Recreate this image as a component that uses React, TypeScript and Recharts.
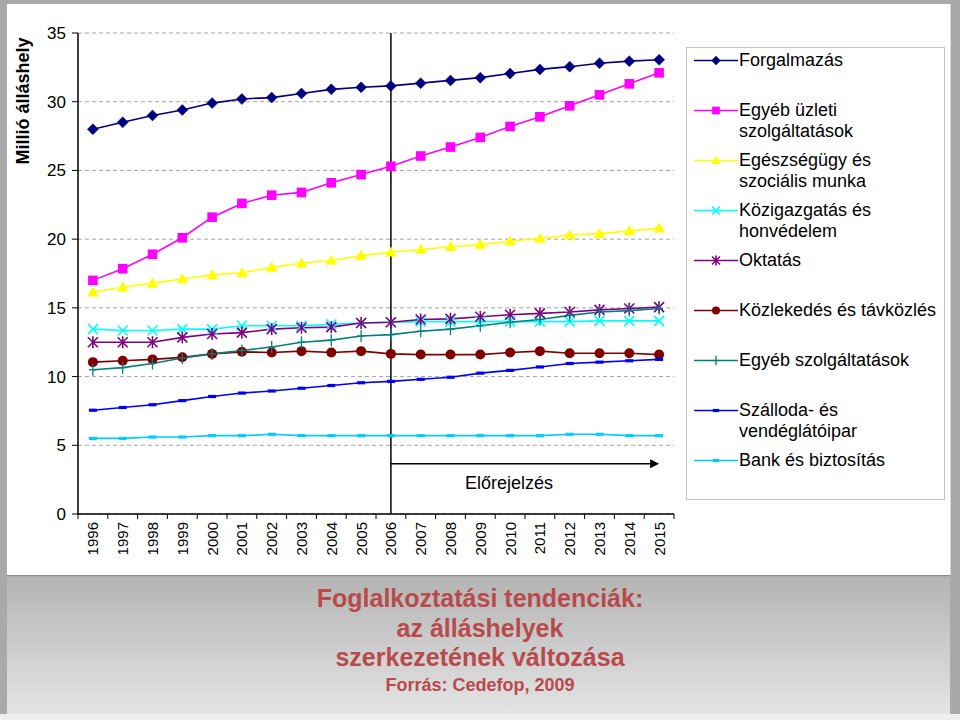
import React from 'react';
import { LineChart, Line, XAxis, YAxis, CartesianGrid, ReferenceLine, Legend } from 'recharts';

const years = ['1996','1997','1998','1999','2000','2001','2002','2003','2004','2005','2006','2007','2008','2009','2010','2011','2012','2013','2014','2015'];

const forgalmazas = [28.0, 28.5, 29.0, 29.4, 29.9, 30.2, 30.3, 30.6, 30.9, 31.05, 31.15, 31.35, 31.55, 31.75, 32.05, 32.35, 32.55, 32.8, 32.95, 33.05];
const egyebUzleti = [17.0, 17.85, 18.9, 20.1, 21.6, 22.6, 23.2, 23.4, 24.1, 24.7, 25.3, 26.05, 26.7, 27.4, 28.2, 28.9, 29.7, 30.5, 31.3, 32.1];
const egeszsegugy = [16.15, 16.5, 16.8, 17.1, 17.4, 17.55, 17.95, 18.25, 18.45, 18.8, 19.05, 19.25, 19.45, 19.6, 19.85, 20.05, 20.3, 20.4, 20.6, 20.8];
const kozigazgatas = [13.45, 13.35, 13.35, 13.45, 13.45, 13.7, 13.7, 13.7, 13.8, 13.9, 13.95, 14.0, 14.0, 14.0, 14.0, 14.0, 14.0, 14.05, 14.05, 14.05];
const oktatas = [12.5, 12.5, 12.5, 12.85, 13.1, 13.2, 13.45, 13.55, 13.6, 13.9, 13.95, 14.15, 14.2, 14.35, 14.5, 14.6, 14.7, 14.85, 14.95, 15.05];
const kozlekedes = [11.05, 11.15, 11.25, 11.4, 11.65, 11.8, 11.75, 11.85, 11.75, 11.85, 11.65, 11.6, 11.6, 11.6, 11.75, 11.85, 11.7, 11.7, 11.7, 11.6];
const egyebSzolg = [10.5, 10.65, 10.95, 11.35, 11.65, 11.9, 12.15, 12.5, 12.65, 12.95, 13.05, 13.3, 13.45, 13.7, 13.95, 14.15, 14.45, 14.7, 14.8, 14.95];
const szalloda = [7.55, 7.75, 7.95, 8.25, 8.55, 8.8, 8.95, 9.15, 9.35, 9.55, 9.65, 9.8, 9.95, 10.25, 10.45, 10.7, 10.95, 11.05, 11.15, 11.25];
const bank = [5.5, 5.5, 5.6, 5.6, 5.7, 5.7, 5.8, 5.7, 5.7, 5.7, 5.7, 5.7, 5.7, 5.7, 5.7, 5.7, 5.8, 5.8, 5.7, 5.7];

const seriesKeys = ['forgalmazas', 'egyebUzleti', 'egeszsegugy', 'kozigazgatas', 'oktatas', 'kozlekedes', 'egyebSzolg', 'szalloda', 'bank'];
const seriesValues = [forgalmazas, egyebUzleti, egeszsegugy, kozigazgatas, oktatas, kozlekedes, egyebSzolg, szalloda, bank];
const seriesNames = [
  'Forgalmazás',
  'Egyéb üzleti\nszolgáltatások',
  'Egészségügy és\nszociális munka',
  'Közigazgatás és\nhonvédelem',
  'Oktatás',
  'Közlekedés és távközlés',
  'Egyéb szolgáltatások',
  'Szálloda- és\nvendéglátóipar',
  'Bank és biztosítás',
];
const seriesColors = ['#000080', '#FF00FF', '#FFFF00', '#00FFFF', '#800080', '#800000', '#008080', '#0000FF', '#00CCFF'];
const seriesMarkers = ['diamond', 'square', 'triangle', 'x', 'star', 'circle', 'plus', 'dash', 'dash'];

const yTicks = [0, 5, 10, 15, 20, 25, 30, 35];
const forecastStart = '2006';
const forecastEnd = '2015';
const forecastArrowLevel = 3.65;
const forecastLabel = 'Előrejelzés';
const yAxisTitle = 'Millió álláshely';
const titleLines = ['Foglalkoztatási tendenciák:', 'az álláshelyek', 'szerkezetének változása'];
const sourceLine = 'Forrás: Cedefop, 2009';

const data = years.map((year, i) => {
  const row: Record<string, any> = { year };
  seriesKeys.forEach((k, j) => { row[k] = seriesValues[j][i]; });
  return row;
});

const FONT = '"Liberation Sans", Arial, Helvetica, sans-serif';

function Marker({ cx, cy, kind, color, s = 1 }: any) {
  if (cx == null || cy == null) return null;
  switch (kind) {
    case 'diamond': {
      const r = 5.5 * s;
      return <polygon points={`${cx},${cy - r} ${cx + r},${cy} ${cx},${cy + r} ${cx - r},${cy}`} fill={color} stroke={color} strokeWidth={0.5} />;
    }
    case 'square': {
      const h = 4.8 * s;
      return <rect x={cx - h} y={cy - h} width={2 * h} height={2 * h} fill={color} />;
    }
    case 'triangle': {
      const h = 5.8 * s;
      return <polygon points={`${cx},${cy - h} ${cx + h},${cy + h * 0.75} ${cx - h},${cy + h * 0.75}`} fill={color} />;
    }
    case 'x': {
      const h = 5 * s;
      return (
        <g stroke={color} strokeWidth={1.6}>
          <line x1={cx - h} y1={cy - h} x2={cx + h} y2={cy + h} />
          <line x1={cx - h} y1={cy + h} x2={cx + h} y2={cy - h} />
        </g>
      );
    }
    case 'star': {
      const h = 5 * s;
      return (
        <g stroke={color} strokeWidth={1.6}>
          <line x1={cx - h} y1={cy - h} x2={cx + h} y2={cy + h} />
          <line x1={cx - h} y1={cy + h} x2={cx + h} y2={cy - h} />
          <line x1={cx} y1={cy - h - 1} x2={cx} y2={cy + h + 1} />
        </g>
      );
    }
    case 'circle':
      return <circle cx={cx} cy={cy} r={5 * s} fill={color} />;
    case 'plus': {
      const h = 6 * s;
      return (
        <g stroke={color} strokeWidth={1.3}>
          <line x1={cx} y1={cy - h} x2={cx} y2={cy + h} />
          <line x1={cx - 4 * s} y1={cy} x2={cx + 4 * s} y2={cy} />
        </g>
      );
    }
    case 'dash':
      return <rect x={cx - 4 * s} y={cy - 1.6} width={8 * s} height={3.2} fill={color} />;
    default:
      return null;
  }
}

function YearTick(props: any) {
  const { x, y, payload, index, visibleTicksCount } = props;
  const off = payload && payload.offset ? payload.offset : 0;
  return (
    <g>
      <line x1={x - off} x2={x - off} y1={y} y2={y + 5} stroke="#000" strokeWidth={1} />
      {index === visibleTicksCount - 1 ? <line x1={x + off} x2={x + off} y1={y} y2={y + 5} stroke="#000" strokeWidth={1} /> : null}
      <text transform={`translate(${x},${y + 8}) rotate(-90)`} textAnchor="end" dy="0.36em" fontSize={15} fontFamily={FONT} fill="#000">
        {payload.value}
      </text>
    </g>
  );
}

function ArrowShape(props: any) {
  const { x1, y1, x2, y2 } = props;
  if (x1 == null) return null;
  const L = 9;
  return (
    <g>
      <line x1={x1} y1={y1} x2={x2 - L + 1} y2={y2} stroke="#000" strokeWidth={1.5} />
      <polygon points={`${x2},${y2} ${x2 - L},${y2 - 4.5} ${x2 - L},${y2 + 4.5}`} fill="#000" />
      <text x={x1 + (x2 - x1) * 0.44} y={y1 + 19} textAnchor="middle" dominantBaseline="central" fontSize={18} fontFamily={FONT} fill="#000">
        {forecastLabel}
      </text>
    </g>
  );
}

function renderLegend(props: any) {
  const payload: any[] = props.payload || [];
  const ordered = seriesKeys
    .map((k) => payload.find((e: any) => e.dataKey === k))
    .filter((e: any) => e != null);
  return (
    <div style={{ width: '100%', height: '100%', boxSizing: 'border-box', border: '1px solid #c4c4c4', background: '#fff', paddingTop: 2, fontFamily: FONT }}>
      {ordered.map((entry: any) => {
        const i = seriesKeys.indexOf(entry.dataKey);
        return (
          <div key={entry.dataKey} style={{ position: 'relative', height: 50 }}>
            <svg width={46} height={21} style={{ position: 'absolute', left: 6, top: 0 }}>
              <line x1={1} x2={45} y1={10.5} y2={10.5} stroke={seriesColors[i]} strokeWidth={1.5} />
              <Marker cx={23} cy={10.5} kind={seriesMarkers[i]} color={seriesColors[i]} s={0.8} />
            </svg>
            <div style={{ position: 'absolute', left: 52, top: 0, fontSize: 18, lineHeight: '21px', whiteSpace: 'pre-line', color: '#000' }}>
              {seriesNames[i]}
            </div>
          </div>
        );
      })}
    </div>
  );
}

export default function App() {
  return (
    <div style={{ position: 'absolute', left: 0, top: 0, width: 960, height: 720, background: '#a9a9a9', overflow: 'hidden', fontFamily: FONT }}>
      <div style={{ position: 'absolute', left: 7, top: 4, width: 943, height: 571, background: '#ffffff', borderRight: '1px solid #d8d8d8', borderBottom: '1px solid #8c8c8c' }} />
      <div style={{ position: 'absolute', left: 7, top: 577, width: 943, height: 137, background: 'linear-gradient(to bottom, #b4b4b4, #e4e4e4)' }} />
      <div style={{ position: 'absolute', left: 0, top: 714, width: 960, height: 6, background: '#eeeeee' }} />
      <div style={{ position: 'absolute', left: 0, top: 584, width: 960, textAlign: 'center', color: '#B84A4B', fontWeight: 'bold', fontSize: 25, lineHeight: '29.5px' }}>
        {titleLines.map((t) => (<div key={t}>{t}</div>))}
      </div>
      <div style={{ position: 'absolute', left: 0, top: 674, width: 960, textAlign: 'center', color: '#B84A4B', fontWeight: 'bold', fontSize: 18, lineHeight: '22px' }}>
        {sourceLine}
      </div>
      <div style={{ position: 'absolute', left: 0, top: 0 }}>
        <LineChart width={960} height={720} data={data} margin={{ top: 33, right: 286, bottom: 156, left: 18 }}>
          <CartesianGrid vertical={false} stroke="#a6a6a6" strokeDasharray="4 3" />
          <XAxis dataKey="year" scale="band" height={50} interval={0} tickLine={false} tickSize={0} tickMargin={0}
            axisLine={{ stroke: '#000', strokeWidth: 1.5 }} tick={<YearTick />} />
          <XAxis xAxisId="top" dataKey="year" scale="band" orientation="top" height={0} tick={false} tickLine={false}
            axisLine={{ stroke: '#000', strokeWidth: 1.5 }} />
          <YAxis domain={[0, 35]} ticks={yTicks} width={60} tickSize={6} tickMargin={6}
            axisLine={{ stroke: '#000', strokeWidth: 1.5 }} tickLine={{ stroke: '#000' }}
            tick={{ fontSize: 17, fill: '#000', fontFamily: FONT }}
            label={{
              value: yAxisTitle,
              content: (p: any) => {
                const vb = p.viewBox || { x: 18, y: 33 };
                const x = vb.x + 5;
                const y = vb.y + 68;
                return (
                  <text x={x} y={y} transform={`rotate(-90, ${x}, ${y})`} textAnchor="middle" dominantBaseline="central" fontSize={18} fontWeight="bold" fontFamily={FONT} fill="#000">
                    {yAxisTitle}
                  </text>
                );
              },
            }} />
          <YAxis yAxisId="right" orientation="right" width={0} domain={[0, 35]} type="number" tick={false} tickLine={false}
            axisLine={{ stroke: '#000', strokeWidth: 1.5 }} />
          <ReferenceLine x={forecastStart} stroke="#000" strokeWidth={1.5} />
          <ReferenceLine segment={[{ x: forecastStart, y: forecastArrowLevel }, { x: forecastEnd, y: forecastArrowLevel }]} shape={ArrowShape} />
          {seriesKeys.map((k, i) => (
            <Line key={k} dataKey={k} name={seriesNames[i]} stroke={seriesColors[i]} strokeWidth={1.6} isAnimationActive={false}
              dot={(p: any) => <Marker key={`${k}-${p.index}`} cx={p.cx} cy={p.cy} kind={seriesMarkers[i]} color={seriesColors[i]} />}
              activeDot={false} />
          ))}
          <Legend layout="vertical" align="center" verticalAlign="middle" content={renderLegend}
            wrapperStyle={{ left: 686, top: 47, width: 259, height: 453 }} />
        </LineChart>
      </div>
    </div>
  );
}
